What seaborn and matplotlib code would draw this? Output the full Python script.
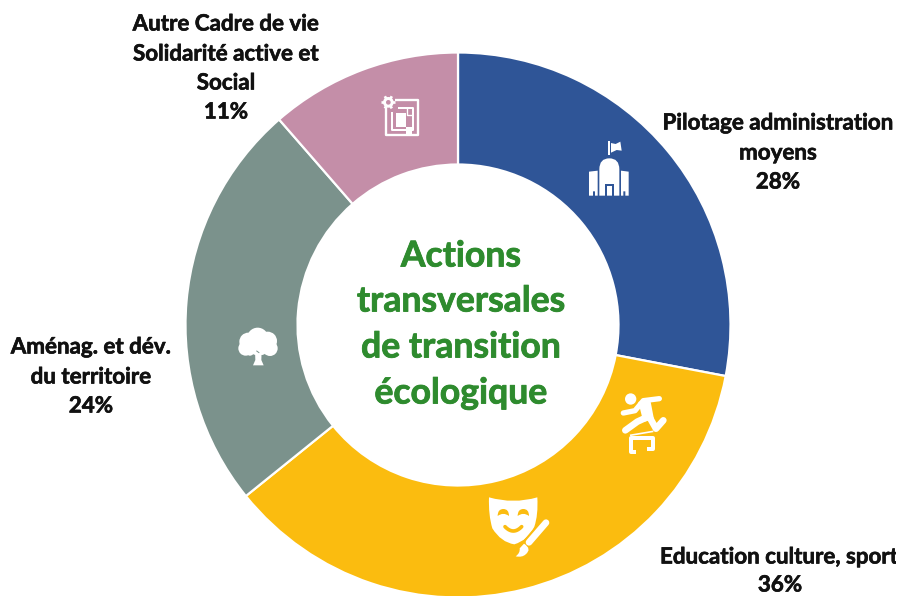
import numpy as np
import matplotlib
matplotlib.use("Agg")
import matplotlib.pyplot as plt
import matplotlib.patheffects as pe
from matplotlib.patches import Circle, Polygon, PathPatch, Rectangle
from matplotlib.path import Path
from matplotlib.transforms import Affine2D
import seaborn as sns

sns.set_theme(style="white")
plt.rcParams["font.family"] = ["Lato", "DejaVu Sans"]

categories = ["Pilotage administration moyens", "Education culture, sport",
              "Aménag. et dév. du territoire", "Autre Cadre de vie Solidarité active et Social"]
values = [28.0, 36.2, 24.4, 11.4]
palette = sns.color_palette(["#2F5597", "#FBBC0F", "#7B928C", "#C48EA8"])
WHITE = "white"

fig = plt.figure(figsize=(9.02, 5.96), dpi=100)
ax = fig.add_axes([0, 0, 1, 1])
ax.pie(values, colors=palette, startangle=90, counterclock=False, center=(458, 271), radius=272.5,
       wedgeprops=dict(width=112, edgecolor="white", linewidth=1.6), frame=False)
ax.set_xlim(0, 902)
ax.set_ylim(0, 596)
ax.set_aspect("equal")
ax.axis("off")

px = Affine2D().scale(1, -1).translate(0, 596) + ax.transData


def zoom_tr(x0, y0):
    return Affine2D().scale(1 / 3).translate(x0, y0) + px


def poly(tr, pts, color=WHITE, z=5):
    ax.add_patch(Polygon(pts, closed=True, facecolor=color, edgecolor="none", transform=tr, zorder=z))


def circ(tr, xy, r, color=WHITE, z=5):
    ax.add_patch(Circle(xy, r, facecolor=color, edgecolor="none", transform=tr, zorder=z))


def stroke(tr, pts, lw, color=WHITE, z=5, cap="round"):
    xs, ys = zip(*pts)
    ax.plot(xs, ys, color=color, lw=lw * 0.72 / 3, transform=tr, zorder=z,
            solid_capstyle=cap, solid_joinstyle="round")


def curve(tr, verts, codes, color=WHITE, z=5):
    ax.add_patch(PathPatch(Path(verts, codes), facecolor=color, edgecolor="none", transform=tr, zorder=z))


M, L, C3, Z = Path.MOVETO, Path.LINETO, Path.CURVE3, Path.CLOSEPOLY

# --- building icon
t = zoom_tr(570, 130)
blue = palette[0]
poly(t, [(115, 32), (120, 32), (120, 76), (115, 76)])
poly(t, [(123, 39), (137, 42), (151, 35), (155, 62), (140, 60), (123, 68)])
curve(t, [(88, 197), (88, 118), (88, 85), (118, 85), (148, 85), (148, 118), (148, 197), (88, 197)],
      [M, L, C3, C3, C3, C3, L, Z])
poly(t, [(104, 197), (104, 161), (132, 161), (132, 197), (126, 197), (126, 167), (110, 167), (110, 197)], blue, 6)
poly(t, [(57, 125), (83, 122), (83, 197), (75, 197), (75, 184), (69, 184), (69, 197), (57, 197)])
poly(t, [(153, 122), (176, 125), (176, 197), (166, 197), (166, 184), (160, 184), (160, 197), (153, 197)])

# --- runner icon
t = zoom_tr(600, 380)
circ(t, (92, 57), 17)
poly(t, [(115, 66), (150, 55), (162, 118), (130, 126)])
stroke(t, [(178, 56), (130, 62), (105, 92), (70, 99)], 16)
stroke(t, [(145, 105), (168, 146), (190, 121)], 20)
stroke(t, [(140, 112), (112, 125), (76, 151)], 20)
stroke(t, [(90, 166), (160, 154)], 5, cap="butt")
stroke(t, [(108, 215), (93, 215), (93, 174), (158, 174), (158, 208), (142, 208)], 12, cap="butt")

# --- mask and brush icon
t = zoom_tr(475, 485)
yel = palette[1]
curve(t, [(42, 37), (115, 58), (187, 37), (190, 90), (178, 125), (160, 165), (118, 178),
          (78, 172), (52, 130), (40, 90), (42, 37), (42, 37)],
      [M, C3, C3, C3, C3, C3, C3, C3, C3, C3, C3, Z])
for a, b in [(68, 102), (128, 162)]:
    m = (a + b) / 2
    curve(t, [(a, 93), (a, 72), (m, 72), (b, 72), (b, 93), (m, 80), (a, 93), (a, 93)],
          [M, C3, C3, C3, C3, C3, C3, Z], yel, 6)
xs = np.linspace(90, 140, 15)
stroke(t, list(zip(xs, 125 + 13 * (1 - ((xs - 115) / 25) ** 2))), 11, yel, 6)
stroke(t, [(214, 112), (158, 178)], 34, yel, 6)
stroke(t, [(213, 113), (162, 172)], 20, WHITE, 7)
curve(t, [(147, 176), (172, 192), (152, 208), (142, 218), (122, 214), (136, 204), (134, 190), (147, 176)],
      [M, C3, C3, C3, C3, C3, C3, Z], WHITE, 8)

# --- tree icon
t = zoom_tr(225, 315)
for c, r in [((98, 70), 32), ((70, 80), 27), ((128, 78), 28), ((62, 100), 22), ((95, 92), 28),
             ((135, 100), 23), ((110, 105), 15), ((75, 110), 12)]:
    circ(t, c, r)
poly(t, [(90, 105), (110, 105), (109, 135), (116, 151), (84, 151), (91, 135)])
stroke(t, [(95, 108), (102, 113)], 3, palette[2], 6)

# --- plan icon
t = zoom_tr(370, 85)
pk = palette[3]
stroke(t, [(55, 60), (47, 60), (47, 149), (143, 149), (143, 45), (75, 45)], 7, cap="butt")
stroke(t, [(65, 80), (65, 135), (128, 135), (128, 68), (85, 68)], 6, cap="butt")
stroke(t, [(112, 70), (112, 90), (128, 90)], 4, cap="butt")
poly(t, [(78, 84), (107, 84), (107, 125), (78, 125)])
poly(t, [(108, 126), (125, 126), (125, 146), (108, 146)])
poly(t, [(70, 125), (78, 125), (78, 132), (70, 132)], pk, 6)
circ(t, (55, 52), 16)
for k in range(6):
    a = k * np.pi / 3
    stroke(t, [(55, 52), (55 + 21 * np.cos(a), 52 + 21 * np.sin(a))], 8, cap="butt")
circ(t, (55, 52), 7, pk, 6)

# --- texts
LAB = 16.1
heavy = [pe.withStroke(linewidth=0.45, foreground="#111111")]
heavy_g = [pe.withStroke(linewidth=0.6, foreground="#2E8B2E")]
lab = dict(fontweight="bold", color="#111111", ha="center", va="center", fontsize=LAB, transform=px,
           path_effects=heavy)
labels = [
    (226, ["Autre Cadre de vie", "Solidarité active et", "Social", "11%"], [24, 54, 83, 112]),
    (778, ["Pilotage administration", "moyens", "28%"], [123, 153, 182]),
    (91, ["Aménag. et dév.", "du territoire", "24%"], [347, 377, 406]),
    (780, ["36%"], [585]),
]
for x, lines, ys in labels:
    for s, y in zip(lines, ys):
        ax.text(x, y, s, **lab)
edu = ax.text(660, 557, "Education culture, sport", fontweight="bold", color="#111111",
              ha="left", va="center", fontsize=LAB, transform=px, path_effects=heavy)
edu.set_clip_path(Rectangle((0, 0), 896, 596, transform=ax.transData))
edu.set_clip_on(True)

for s, y in zip(["Actions", "transversales", "de transition", "écologique"], [256, 301, 347, 393]):
    ax.text(461, y, s, color="#2E8B2E", fontweight="bold", ha="center", va="center", fontsize=25.6,
            transform=px, path_effects=heavy_g)

fig.savefig("out.png", dpi=100, facecolor="white")
